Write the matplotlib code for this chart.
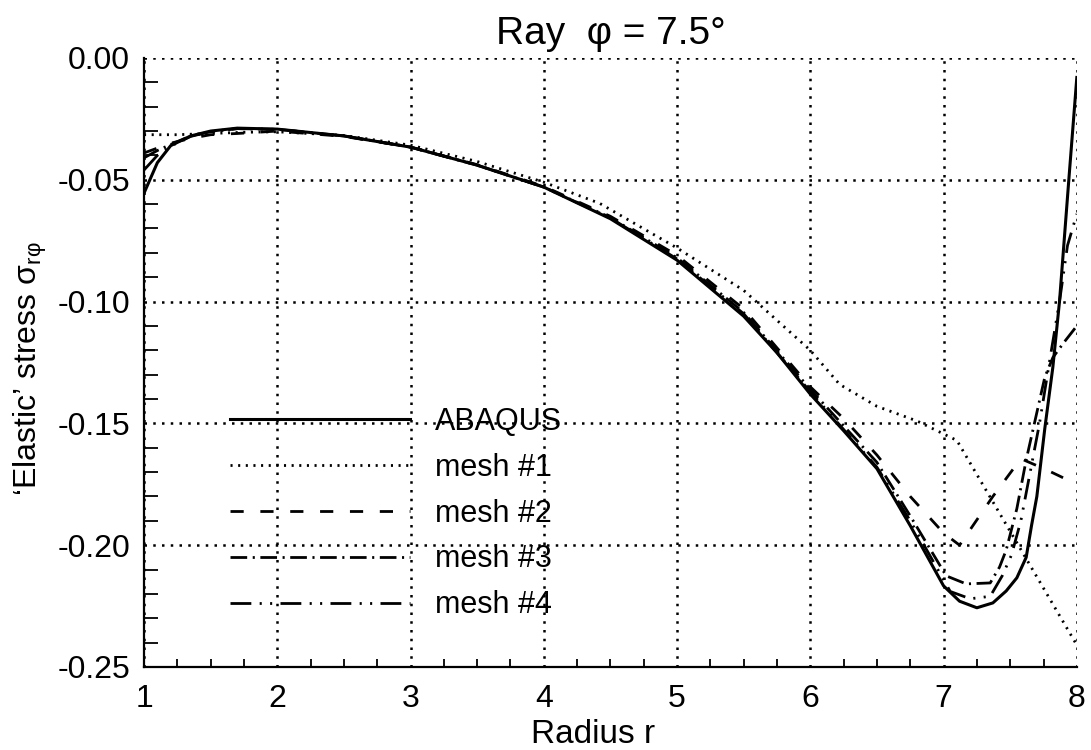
import numpy as np
import matplotlib
matplotlib.use('Agg')
import matplotlib.pyplot as plt
from matplotlib.ticker import MultipleLocator, FormatStrFormatter

plt.rcParams['font.family'] = ['Liberation Sans', 'DejaVu Sans']
plt.rcParams['mathtext.fontset'] = 'custom'
plt.rcParams['mathtext.rm'] = 'Liberation Sans'
plt.rcParams['mathtext.it'] = 'Liberation Sans'
plt.rcParams['mathtext.default'] = 'regular'
plt.rcParams['axes.unicode_minus'] = False
plt.rcParams['lines.scale_dashes'] = False

# Data
r_abaqus = [1.0, 1.1, 1.2, 1.35, 1.5, 1.7, 2.0, 2.5, 3.0, 3.5, 4.0, 4.5, 5.0, 5.5,
            5.75, 6.0, 6.25, 6.5, 6.75, 7.0, 7.12, 7.25, 7.37, 7.47, 7.55, 7.62,
            7.66, 7.7, 7.76, 7.82, 7.87, 7.94, 8.0]
s_abaqus = [-0.0555, -0.043, -0.036, -0.032, -0.030, -0.0288, -0.0292, -0.032,
            -0.0366, -0.044, -0.053, -0.066, -0.083, -0.106, -0.121, -0.138,
            -0.153, -0.1686, -0.192, -0.2167, -0.223, -0.2257, -0.2237, -0.2188,
            -0.2134, -0.205, -0.192, -0.18, -0.152, -0.127, -0.10, -0.05, -0.008]

r_mesh1 = [1.0, 1.25, 1.5, 1.75, 2.0, 2.5, 3.0, 3.5, 4.0, 4.42, 5.0, 5.5, 6.0,
           6.22, 6.5, 6.8, 7.1, 8.0]
s_mesh1 = [-0.0315, -0.0315, -0.031, -0.0305, -0.0303, -0.0318, -0.0358, -0.0425,
           -0.051, -0.0597, -0.078, -0.0954, -0.120, -0.134, -0.143, -0.149,
           -0.157, -0.241]

r_mesh2 = [1.0, 1.1, 1.2, 1.35, 1.5, 1.7, 2.0, 2.5, 3.0, 3.5, 4.0, 4.5, 5.0, 5.5,
           6.0, 6.25, 6.5, 6.75, 7.0, 7.12, 7.37, 7.58, 7.77, 8.0]
s_mesh2 = [-0.039, -0.037, -0.035, -0.033, -0.0315, -0.031, -0.0300, -0.0322,
           -0.0366, -0.0438, -0.0527, -0.065, -0.081, -0.103, -0.135, -0.148,
           -0.163, -0.180, -0.195, -0.200, -0.180, -0.1645, -0.169, -0.175]

r_mesh3 = [1.0, 1.1, 1.2, 1.35, 1.5, 1.7, 2.0, 2.5, 3.0, 3.5, 4.0, 4.5, 5.0, 5.5,
           6.0, 6.5, 6.75, 7.02, 7.17, 7.35, 7.42, 7.47, 7.55, 7.62, 7.69, 7.76,
           7.82, 7.9, 8.0]
s_mesh3 = [-0.041, -0.038, -0.0355, -0.032, -0.0303, -0.029, -0.0293, -0.032,
           -0.0366, -0.044, -0.053, -0.0655, -0.082, -0.1045, -0.136, -0.166,
           -0.188, -0.2126, -0.2159, -0.2155, -0.209, -0.202, -0.185, -0.165,
           -0.148, -0.131, -0.123, -0.117, -0.11]

r_mesh4 = [1.0, 1.1, 1.2, 1.35, 1.5, 1.7, 2.0, 2.5, 3.0, 3.5, 4.0, 4.5, 5.0, 5.5,
           6.0, 6.5, 6.75, 7.05, 7.2, 7.35, 7.44, 7.51, 7.58, 7.65, 7.72, 7.8,
           7.87, 7.93, 8.0]
s_mesh4 = [-0.046, -0.040, -0.0362, -0.0322, -0.0302, -0.029, -0.0293, -0.032,
           -0.0366, -0.044, -0.053, -0.0657, -0.0825, -0.105, -0.137, -0.168,
           -0.19, -0.219, -0.222, -0.221, -0.2126, -0.204, -0.19, -0.17, -0.15,
           -0.123, -0.10, -0.077, -0.064]

labels = ['ABAQUS', 'mesh #1', 'mesh #2', 'mesh #3', 'mesh #4']

fig = plt.figure(figsize=(10.91, 7.5), dpi=100)
ax = fig.add_axes([0.132, 0.1107, 0.855, 0.812])

lw = 2.0
ax.plot(r_abaqus, s_abaqus, color='black', lw=2.2, ls='-', label=labels[0])
ax.plot(r_mesh1, s_mesh1, color='black', lw=lw, ls=(0, (1.5, 4)), label=labels[1])
ax.plot(r_mesh2, s_mesh2, color='black', lw=lw, ls=(0, (9.5, 12)), label=labels[2])
ax.plot(r_mesh3, s_mesh3, color='black', lw=lw, ls=(0, (12, 4, 1.5, 4)), label=labels[3])
ax.plot(r_mesh4, s_mesh4, color='black', lw=lw,
        ls=(0, (15, 6, 1.5, 6, 1.5, 6)), label=labels[4])

ax.set_xlim(1, 8)
ax.set_ylim(-0.25, 0.0)
ax.xaxis.set_major_locator(MultipleLocator(1))
ax.xaxis.set_minor_locator(MultipleLocator(0.25))
ax.yaxis.set_major_locator(MultipleLocator(0.05))
ax.yaxis.set_minor_locator(MultipleLocator(0.01))
ax.yaxis.set_major_formatter(FormatStrFormatter('%.2f'))

ax.grid(True, which='major', color='black', lw=1.8, ls=(0, (1.8, 4.5)))
for s in ['top', 'right']:
    ax.spines[s].set_visible(False)
for s in ['left', 'bottom']:
    ax.spines[s].set_linewidth(1.6)

ax.tick_params(which='major', length=0, labelsize=23)
ax.tick_params(axis='x', which='major', pad=12)
ax.tick_params(axis='y', which='major', pad=10)
ax.tick_params(axis='x', which='minor', direction='in', length=6, width=1.3)
ax.tick_params(axis='y', which='minor', direction='in', length=10, width=1.3)

ax.set_title('Ray  φ = 7.5°', fontsize=28, pad=10)
ax.set_xlabel('Radius r', fontsize=24)
ax.xaxis.set_label_coords(0.481, -0.085)
ax.set_ylabel(r'‘Elastic’ stress $\sigma_{r\varphi}$', fontsize=23)
ax.yaxis.set_label_coords(-0.102, 0.49)

ax.legend(loc='center left', bbox_to_anchor=(0.092, 0.252), frameon=False,
          fontsize=22, handlelength=5.9, handletextpad=0.8, labelspacing=0.52,
          borderpad=0, borderaxespad=0)

plt.savefig('out.png', dpi=100)
